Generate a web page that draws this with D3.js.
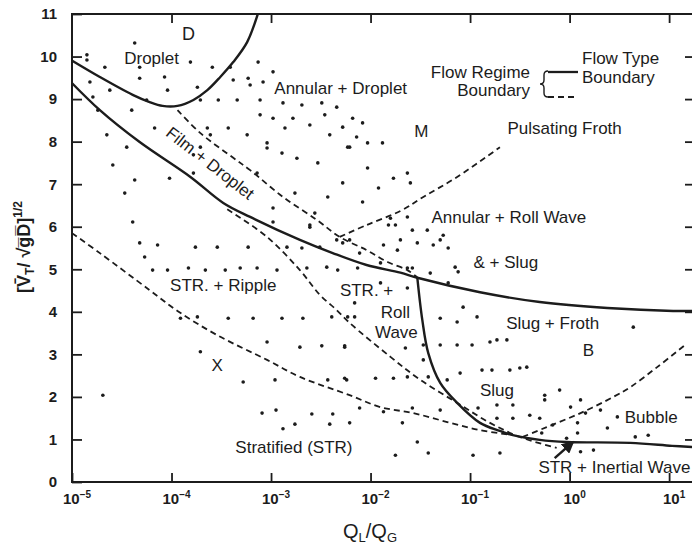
<!DOCTYPE html>
<html><head><meta charset="utf-8">
<script src="https://cdn.jsdelivr.net/npm/d3@7"></script>
<style>
body{margin:0;background:#fff}
svg{display:block}
text{font-family:"Liberation Sans",Arial,Helvetica,sans-serif;fill:#1c1c1c}
</style>
</head><body>
<svg id="c" width="692" height="545"></svg>
<script>
// ---------------- data (x values as log10(QL/QG)) ----------------
const xTickExps = [-5, -4, -3, -2, -1, 0, 1];
const yTickVals = [0,1,2,3,4,5,6,7,8,9,10,11];

// Flow type boundaries (solid)
const dropletBoundary = [[-5.06,9.99],[-4.72,9.52],[-4.39,9.10],[-4.22,8.93],[-4.09,8.84],[-3.94,8.84],[-3.78,8.98],[-3.64,9.21],[-3.51,9.52],[-3.38,9.87],[-3.24,10.34],[-3.13,11.02]];
const filmBoundary = [[-5.06,9.52],[-4.72,8.74],[-4.32,7.99],[-3.81,7.17],[-3.48,6.56],[-3.21,6.23],[-2.71,5.69],[-2.38,5.38],[-2.04,5.10],[-1.70,4.92],[-1.53,4.80],[-0.90,4.46],[-0.30,4.23],[0.38,4.09],[1.04,4.02],[1.25,4.02]];
const slugBoundary = [[-1.53,4.80],[-1.48,3.81],[-1.42,3.03],[-1.30,2.33],[-1.13,1.86],[-0.90,1.39],[-0.70,1.20],[-0.57,1.10],[-0.30,0.99],[-0.03,0.94],[0.61,0.92],[1.03,0.85],[1.25,0.82]];

// Flow regime boundaries (dashed)
const filmUpper = [[-3.94,8.74],[-3.71,8.20],[-3.38,7.62],[-3.21,7.33],[-2.88,6.70],[-2.54,6.16],[-2.31,5.76],[-2.04,5.45],[-1.83,5.17],[-1.63,4.98],[-1.53,4.81]];
const pulsatingFroth = [[-2.31,5.76],[-2.04,6.04],[-1.70,6.37],[-1.47,6.70],[-1.13,7.17],[-0.70,7.87]];
const strRollWave = [[-3.44,6.41],[-3.04,5.76],[-2.71,4.98],[-2.51,4.40],[-2.34,4.04],[-2.21,3.74],[-1.80,2.94],[-1.50,2.40],[-1.13,1.86],[-0.80,1.39],[-0.50,1.06],[-0.13,0.80]];
const strLower = [[-5.0,5.85],[-4.72,5.38],[-4.22,4.51],[-3.94,4.02],[-3.54,3.45],[-3.04,2.87],[-2.71,2.47],[-2.21,2.04],[-1.90,1.76],[-1.57,1.62],[-1.23,1.41],[-0.90,1.22],[-0.57,1.10]];
const bubbleBoundary = [[-0.47,1.06],[-0.23,1.29],[0.11,1.62],[0.44,2.00],[0.61,2.23],[0.88,2.70],[1.16,3.22]];

// experimental points
const scatterPts = [
[-4.85,10.04],[-4.85,9.92],[-4.37,10.32],[-3.81,9.87],[-4.67,9.75],[-4.32,9.75],[-3.59,9.75],[-3.41,9.75],[-3.13,9.87],[-2.98,9.64],
[-4.82,9.40],[-4.32,9.49],[-4.07,9.52],[-3.74,9.28],[-3.38,9.45],[-3.23,9.49],[-3.21,9.33],[-3.08,9.40],
[-4.62,9.21],[-4.04,9.21],[-4.79,9.05],[-4.25,8.98],[-3.71,8.98],[-3.53,8.98],[-3.34,8.98],[-3.11,8.98],[-2.88,8.91],[-2.69,8.86],[-2.49,8.91],[-2.34,8.81],
[-4.74,8.74],[-4.40,8.74],[-3.11,8.63],[-2.98,8.55],[-2.78,8.55],[-2.46,8.63],
[-4.17,8.32],[-3.64,8.32],[-3.43,8.32],[-2.86,8.32],[-2.61,8.39],[-2.28,8.34],
[-4.65,8.16],[-3.61,8.16],[-3.24,8.16],[-3.04,7.97],[-2.41,8.16],
[-4.45,7.87],[-3.71,7.87],[-3.04,7.85],[-2.23,7.87],
[-3.78,7.69],[-2.89,7.73],[-2.74,7.61],[-2.53,7.50],
[-4.59,7.45],[-4.02,7.14],[-3.78,7.26],[-3.14,7.26],[-4.37,7.10],[-2.28,7.03],
[-4.47,6.79],[-2.76,6.79],[-2.43,6.70],[-2.98,6.44],
[-4.39,6.11],[-2.98,6.11],[-2.61,5.99],
[-4.32,5.62],[-4.14,5.57],[-3.76,5.52],[-3.54,5.52],[-3.23,5.52],[-2.84,5.52],[-2.69,5.50],[-2.51,5.52],[-2.34,5.69],
[-4.27,5.29],[-4.19,4.98],[-4.04,4.98],[-3.83,5.03],[-3.66,4.98],[-3.46,4.98],[-3.31,5.03],[-3.14,5.03],[-2.94,4.98],[-2.64,5.03],[-2.44,5.05],[-2.33,4.98],
[-3.91,3.85],[-3.74,3.88],[-3.43,3.85],[-3.18,3.85],[-2.89,3.85],[-2.68,3.85],[-2.39,3.88],[-2.23,3.88],
[-3.71,3.06],[-3.04,3.29],[-2.71,3.17],[-2.49,3.20],[-2.26,3.20],
[-3.28,2.35],[-2.96,2.40],[-2.43,2.40],[-2.24,2.40],
[-4.69,2.04],[-3.09,1.62],[-2.95,1.69],[-2.59,1.60],[-2.38,1.60],[-2.76,1.36],[-2.41,1.36],[-2.88,1.25],
[-2.18,8.55],[-2.08,8.44],[-2.14,8.11],[-2.03,7.97],[-1.88,7.97],[-2.21,7.87],[-2.03,7.38],[-1.77,7.14],[-1.63,7.26],[-1.60,7.03],[-1.92,6.91],[-2.08,6.58],[-1.63,6.23],[-1.80,6.20],[-1.58,5.92],[-1.43,5.92],[-1.27,5.80],[-1.22,5.50],[-1.30,5.69],[-1.87,5.57],[-1.70,5.69],[-1.53,5.62],[-2.11,5.38],[-1.90,5.15],[-1.63,5.03],[-1.40,4.91],[-1.15,5.05],[-1.12,4.94],
[-2.56,6.32],[-2.61,6.04],[-1.82,6.04],[-1.75,6.04],[-2.28,5.62],[-2.21,5.69],[-1.37,5.57],[-1.73,5.45],[-2.13,5.03],[-1.58,5.03],[-1.90,4.68],[-1.63,4.56],[-2.16,4.21],[-1.07,4.11],
[-1.22,4.68],[-1.13,3.76],[-0.93,3.88],[-1.30,3.85],[-2.16,3.88],[-2.26,3.17],[-1.65,3.15],[-1.47,3.22],[-1.30,3.22],[-1.13,3.22],[-0.98,3.22],[-0.80,3.29],[-0.73,3.34],[-0.63,3.34],[-1.47,2.87],
[-2.26,2.44],[-1.95,2.44],[-1.77,2.44],[-1.63,2.47],[-1.42,2.47],[-1.23,2.40],[-1.10,2.56],[-0.88,2.63],[-0.78,2.63],[-0.60,2.63],[-0.50,2.68],[-0.43,2.70],[0.64,3.64],
[-2.11,1.74],[-1.87,1.65],[-1.68,1.39],[-1.58,1.74],[-1.30,1.69],[-0.92,1.74],[-0.73,1.81],[-0.57,1.81],[-0.40,1.57],[-0.25,1.93],[-0.25,2.04],[-0.10,2.16],[0.11,1.93],[0.01,1.76],[-0.30,1.50],[-0.57,1.50],[-0.73,1.50],
[-0.28,1.15],[-0.17,1.34],[0.08,1.39],[0.16,1.62],[0.31,1.69],[0.38,1.27],[0.48,1.53],[-0.03,1.03],[0.08,1.15],[0.66,1.06],[0.79,1.10],
[-1.53,0.94],[-2.21,1.39],[-1.75,0.63],[-1.42,0.68],[-0.97,0.63],[-0.70,0.68],[0.11,0.71],[0.24,0.75]
];

// region labels: text, log10 x, y (centre), font size
const regionLabels = [
  ["D", -3.83, 10.55, 18],
  ["Droplet", -4.20, 9.96, 17],
  ["Annular + Droplet", -2.30, 9.26, 17],
  ["M", -1.49, 8.25, 17],
  ["Pulsating Froth", -0.05, 8.32, 17],
  ["Annular + Roll Wave", -0.61, 6.23, 17],
  ["& + Slug", -0.64, 5.17, 17],
  ["STR. + Ripple", -3.48, 4.63, 17],
  ["STR. +", -2.04, 4.51, 17],
  ["Roll", -1.75, 4.00, 17],
  ["Wave", -1.74, 3.53, 17],
  ["Slug + Froth", -0.17, 3.74, 17],
  ["B", 0.19, 3.10, 17],
  ["X", -3.54, 2.75, 17],
  ["Slug", -0.73, 2.16, 17],
  ["Bubble", 0.82, 1.53, 17],
  ["Stratified (STR)", -2.77, 0.82, 17],
  ["STR + Inertial Wave", 0.45, 0.35, 17]
];
const filmLabel = ["Film + Droplet", -3.61, 7.50, 38];
const inertialArrow = [[-0.15, 0.56], [0.03, 0.93]];

// ---------------- drawing ----------------
const svg = d3.select("#c");
const W = 692, H = 545;
const x = d3.scaleLog().domain([1e-5, Math.pow(10, 1.22)]).range([72, 691]);
const y = d3.scaleLinear().domain([0, 11]).range([482, 14]);
const X = lx => x(Math.pow(10, lx));
const ink = "#1c1c1c";

svg.append("rect").attr("width", W).attr("height", H).attr("fill", "#fff");
svg.append("clipPath").attr("id", "clip").append("rect")
  .attr("x", 72).attr("y", 14).attr("width", 620).attr("height", 468);

const plot = svg.append("g").attr("clip-path", "url(#clip)");
const line = d3.line().x(d => X(d[0])).y(d => y(d[1])).curve(d3.curveCatmullRom.alpha(0.5));

// dots
plot.selectAll("circle.pt").data(scatterPts).join("circle")
  .attr("class", "pt").attr("cx", d => X(d[0])).attr("cy", d => y(d[1]))
  .attr("r", 1.8).attr("fill", ink);

// dashed regime boundaries
[filmUpper, pulsatingFroth, strRollWave, strLower, bubbleBoundary].forEach(s => {
  plot.append("path").datum(s).attr("d", line).attr("fill", "none")
    .attr("stroke", ink).attr("stroke-width", 1.8).attr("stroke-dasharray", "6,4");
});
// solid type boundaries
[dropletBoundary, filmBoundary, slugBoundary].forEach(s => {
  plot.append("path").datum(s).attr("d", line).attr("fill", "none")
    .attr("stroke", ink).attr("stroke-width", 2.4).attr("stroke-linejoin", "round");
});

// axes frame
const axisW = 2;
svg.append("line").attr("x1", 72).attr("x2", 72).attr("y1", 13).attr("y2", 483).attr("stroke", ink).attr("stroke-width", axisW);
svg.append("line").attr("x1", 71).attr("x2", 692).attr("y1", 482).attr("y2", 482).attr("stroke", ink).attr("stroke-width", axisW);
svg.append("line").attr("x1", 71).attr("x2", 692).attr("y1", 14).attr("y2", 14).attr("stroke", ink).attr("stroke-width", axisW);

// bottom & top ticks
const bottomAxis = d3.axisBottom(x).tickValues(xTickExps.map(e => Math.pow(10, e))).tickSize(-9).tickFormat("");
const gb = svg.append("g").attr("transform", "translate(0,482)").call(bottomAxis);
gb.select(".domain").remove();
gb.selectAll("line").attr("stroke", ink).attr("stroke-width", 1.8);
const topAxis = d3.axisTop(x).tickValues(xTickExps.slice(1).map(e => Math.pow(10, e))).tickSize(-9).tickFormat("");
const gt = svg.append("g").attr("transform", "translate(0,14)").call(topAxis);
gt.select(".domain").remove();
gt.selectAll("line").attr("stroke", ink).attr("stroke-width", 1.8);

// left & right ticks
const leftAxis = d3.axisLeft(y).tickValues(yTickVals).tickSize(-10).tickFormat("");
const gl = svg.append("g").attr("transform", "translate(72,0)").call(leftAxis);
gl.select(".domain").remove();
gl.selectAll("line").attr("stroke", ink).attr("stroke-width", 1.8);
const rightAxis = d3.axisRight(y).tickValues(yTickVals.slice(1, 11)).tickSize(-7).tickFormat("");
const gr = svg.append("g").attr("transform", "translate(692,0)").call(rightAxis);
gr.select(".domain").remove();
gr.selectAll("line").attr("stroke", ink).attr("stroke-width", 1.8);

// y tick labels
svg.append("g").selectAll("text").data(yTickVals).join("text")
  .attr("x", 57).attr("y", d => y(d)).attr("dy", "0.36em")
  .attr("text-anchor", "end").attr("font-size", 15).attr("font-weight", "bold")
  .text(d => d);

// x tick labels
const xl = svg.append("g").selectAll("text").data(xTickExps).join("text")
  .attr("x", d => X(d) + 5).attr("y", 504).attr("text-anchor", "middle")
  .attr("font-size", 15).attr("font-weight", "bold");
xl.append("tspan").text("10");
xl.append("tspan").attr("font-size", 10).attr("dy", -6).text(d => (d < 0 ? "\u2212" : "") + Math.abs(d));

// axis titles
const xt = svg.append("text").attr("x", 370).attr("y", 538).attr("text-anchor", "middle").attr("font-size", 20);
xt.append("tspan").text("Q");
xt.append("tspan").attr("font-size", 13).attr("dy", 4).text("L");
xt.append("tspan").attr("dy", -4).text("/Q");
xt.append("tspan").attr("font-size", 13).attr("dy", 4).text("G");

const yt = svg.append("text").attr("transform", "translate(30,247) rotate(-90)")
  .attr("text-anchor", "middle").attr("font-size", 18).attr("font-weight", "bold");
yt.append("tspan").text("[V\u0304");
yt.append("tspan").attr("font-size", 12).attr("dy", 4).text("T");
yt.append("tspan").attr("dy", -4).text("/ \u221A");
yt.append("tspan").text("g\u0305D\u0305");
yt.append("tspan").text("]");
yt.append("tspan").attr("font-size", 12).attr("dy", -8).text("1/2");

// region labels
svg.append("g").selectAll("text").data(regionLabels).join("text")
  .attr("x", d => X(d[1])).attr("y", d => y(d[2])).attr("dy", "0.36em")
  .attr("text-anchor", "middle").attr("font-size", d => d[3])
  .text(d => d[0]);

svg.append("text")
  .attr("transform", `translate(${X(filmLabel[1])},${y(filmLabel[2])}) rotate(${filmLabel[3]})`)
  .attr("text-anchor", "middle").attr("dy", "0.36em").attr("font-size", 17)
  .text(filmLabel[0]);

// arrow to STR + Inertial wave boundary
svg.append("defs").append("marker").attr("id", "ah").attr("viewBox", "0 0 10 10")
  .attr("refX", 8).attr("refY", 5).attr("markerWidth", 5).attr("markerHeight", 5)
  .attr("orient", "auto").append("path").attr("d", "M0,0 L10,5 L0,10 z").attr("fill", ink);
svg.append("path").datum(inertialArrow).attr("d", d3.line().x(d => X(d[0])).y(d => y(d[1])))
  .attr("stroke", ink).attr("stroke-width", 2.5).attr("marker-end", "url(#ah)");

// legend
const lg = svg.append("g");
lg.append("text").attr("x", 530).attr("y", 78).attr("text-anchor", "end").attr("font-size", 17).text("Flow Regime");
lg.append("text").attr("x", 530).attr("y", 96).attr("text-anchor", "end").attr("font-size", 17).text("Boundary");
lg.append("text").attr("x", 582).attr("y", 64).attr("font-size", 17).text("Flow Type");
lg.append("text").attr("x", 582).attr("y", 83).attr("font-size", 17).text("Boundary");
lg.append("path").attr("d", "M548,71 q-4,0 -4,4 v5 q0,4 -4,4 q4,0 4,4 v5 q0,4 4,4")
  .attr("fill", "none").attr("stroke", ink).attr("stroke-width", 1.4);
lg.append("line").attr("x1", 548).attr("x2", 578).attr("y1", 72).attr("y2", 72).attr("stroke", ink).attr("stroke-width", 2.3);
lg.append("line").attr("x1", 548).attr("x2", 578).attr("y1", 97).attr("y2", 97).attr("stroke", ink).attr("stroke-width", 1.8).attr("stroke-dasharray", "6,4");
</script>
</body></html>
